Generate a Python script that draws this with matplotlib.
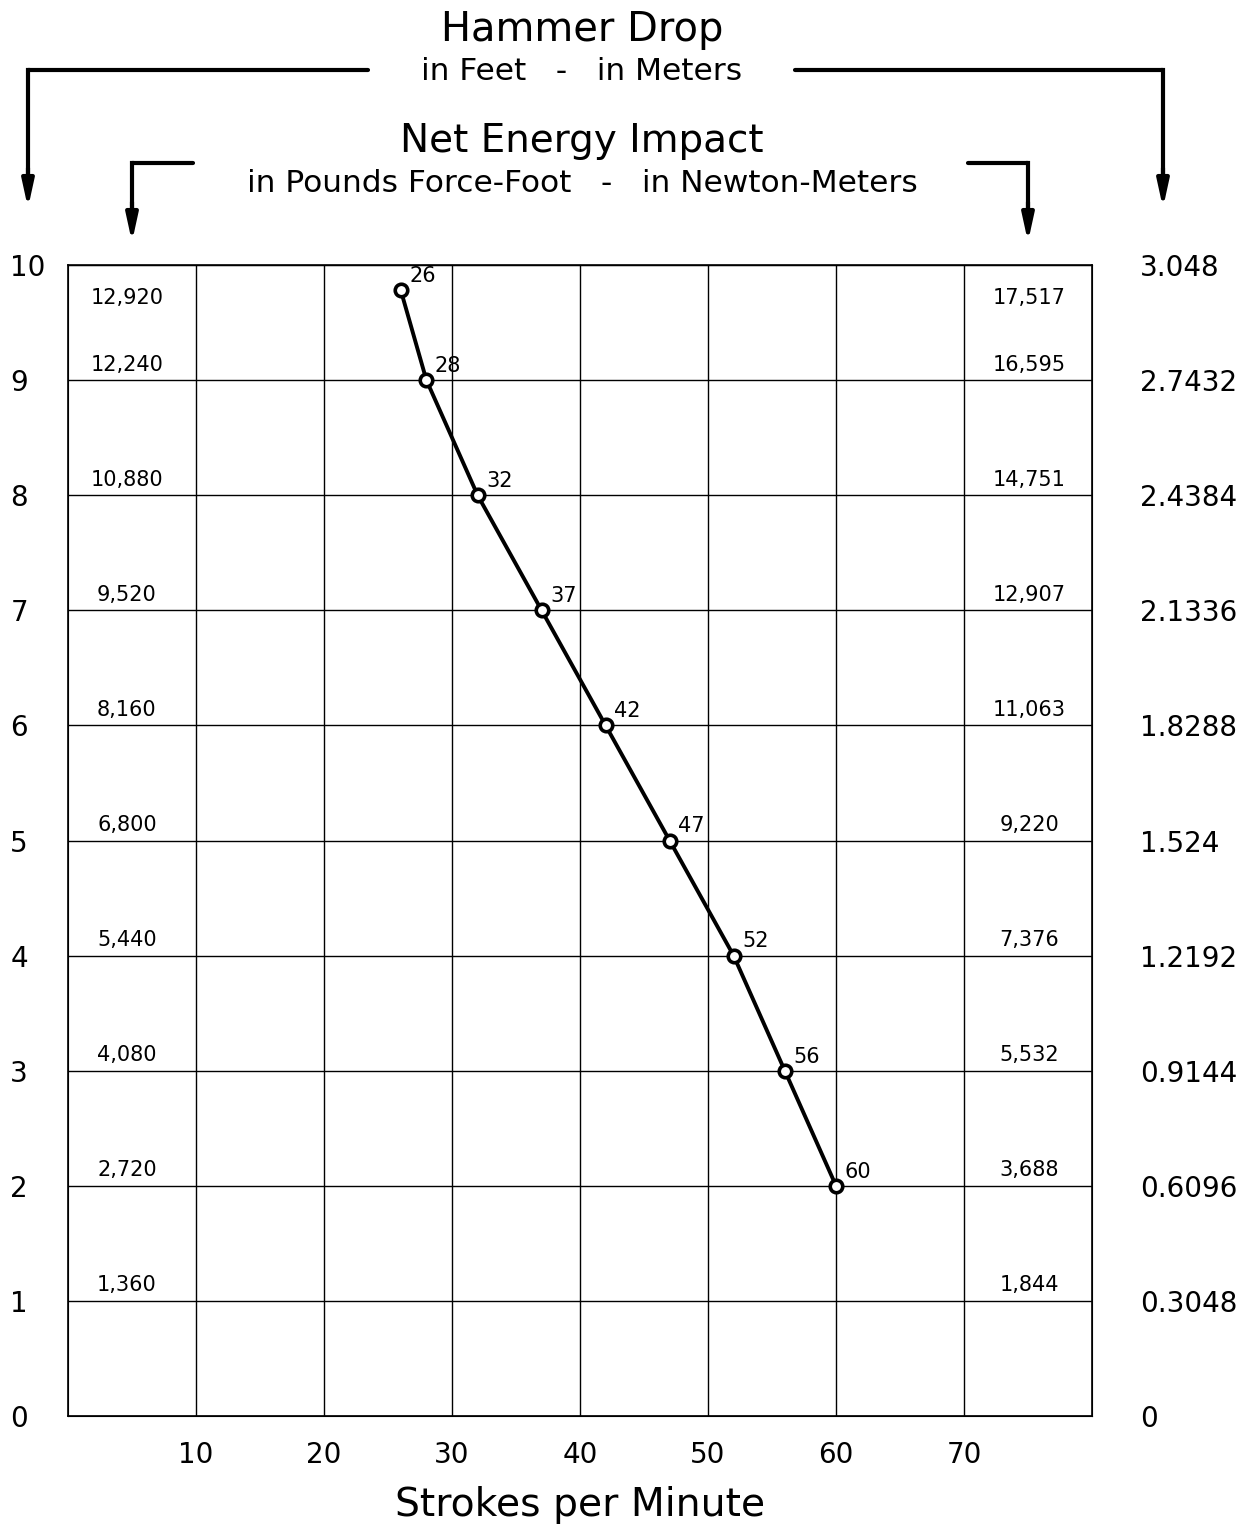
import numpy as np
import matplotlib.pyplot as plt
from matplotlib.lines import Line2D

plt.rcParams['font.family'] = ['DejaVu Sans']

# Data
strokes = [26, 28, 32, 37, 42, 47, 52, 56, 60]
drop_ft = [9.78, 9, 8, 7, 6, 5, 4, 3, 2]
stroke_labels = ["26", "28", "32", "37", "42", "47", "52", "56", "60"]

feet_ticks = [0, 1, 2, 3, 4, 5, 6, 7, 8, 9, 10]
meter_labels = ["0", "0.3048", "0.6096", "0.9144", "1.2192", "1.524",
                "1.8288", "2.1336", "2.4384", "2.7432", "3.048"]
energy_lbf_ft = ["1,360", "2,720", "4,080", "5,440", "6,800", "8,160",
                 "9,520", "10,880", "12,240", "12,920"]
energy_nm = ["1,844", "3,688", "5,532", "7,376", "9,220", "11,063",
             "12,907", "14,751", "16,595", "17,517"]
energy_y = [1, 2, 3, 4, 5, 6, 7, 8, 9, 9.58]

W, H = 1255, 1525
fig = plt.figure(figsize=(W / 100, H / 100), dpi=100)
ax = fig.add_axes([68 / W, (H - 1416) / H, 1024 / W, (1416 - 265) / H])

ax.set_xlim(0, 80)
ax.set_ylim(0, 10)
ax.set_xticks([10, 20, 30, 40, 50, 60, 70])
ax.set_yticks(feet_ticks)
ax.grid(True, color='black', linewidth=1.0)
ax.tick_params(axis='x', length=0, labelsize=20, pad=18)
ax.tick_params(axis='y', length=0, labelsize=20, pad=41.5)
for lab in ax.get_yticklabels():
    lab.set_horizontalalignment('left')
for s in ax.spines.values():
    s.set_linewidth(1.2)

# right axis in meters
ax2 = ax.twinx()
ax2.set_ylim(0, 10)
ax2.set_yticks(feet_ticks)
ax2.set_yticklabels(meter_labels)
ax2.tick_params(length=0, labelsize=20, pad=34.5)
for lab in ax2.get_yticklabels():
    lab.set_horizontalalignment('left')

ax.set_xlabel("Strokes per Minute", fontsize=28.3, labelpad=12)

# curve
ax.plot(strokes, drop_ft, color='black', linewidth=2.8, zorder=3)
ax.plot(strokes, drop_ft, 'o', markersize=9, markerfacecolor='white',
        markeredgecolor='black', markeredgewidth=2.6, zorder=4)
for x, y, t in zip(strokes, drop_ft, stroke_labels):
    ax.annotate(t, (x, y), xytext=(6, 3), textcoords='offset points',
                fontsize=15, va='bottom', ha='left')

# energy labels inside the plot
for y, t in zip(energy_y, energy_lbf_ft):
    ax.annotate(t, (4.6, y), xytext=(0, 4), textcoords='offset points',
                fontsize=15, ha='center', va='bottom')
for y, t in zip(energy_y, energy_nm):
    ax.annotate(t, (75.1, y), xytext=(0, 4), textcoords='offset points',
                fontsize=15, ha='center', va='bottom')

# header text
fig.text(582 / W, 1 - 30 / H, "Hammer Drop", fontsize=28.8, ha='center', va='center')
fig.text(582 / W, 1 - 72 / H, "in Feet   -   in Meters", fontsize=22.5,
         ha='center', va='center')
fig.text(582 / W, 1 - 141 / H, "Net Energy Impact", fontsize=28,
         ha='center', va='center')
fig.text(582 / W, 1 - 184 / H, "in Pounds Force-Foot   -   in Newton-Meters",
         fontsize=22.5, ha='center', va='center')


def bracket(x0, x1, y0, y1):
    # horizontal line from x1 to x0 then arrow down to y1
    fig.add_artist(Line2D([x1 / W, x0 / W], [1 - y0 / H, 1 - y0 / H],
                          transform=fig.transFigure, color='black',
                          linewidth=3, solid_capstyle='round'))
    fig.add_artist(Line2D([x0 / W, x0 / W], [1 - y0 / H, 1 - (y1 - 30) / H],
                          transform=fig.transFigure, color='black',
                          linewidth=3))
    ax.annotate("", xy=(x0 / W, 1 - y1 / H), xycoords='figure fraction',
                xytext=(x0 / W, 1 - (y1 - 40) / H), textcoords='figure fraction',
                arrowprops=dict(arrowstyle='-|>,head_length=1.6,head_width=0.35',
                                color='black', lw=3, shrinkA=0, shrinkB=0))


bracket(28, 368, 70, 208)
bracket(1163, 795, 70, 208)
bracket(132, 193, 163, 242)
bracket(1028, 968, 163, 242)

fig.savefig("out.png", dpi=100)
